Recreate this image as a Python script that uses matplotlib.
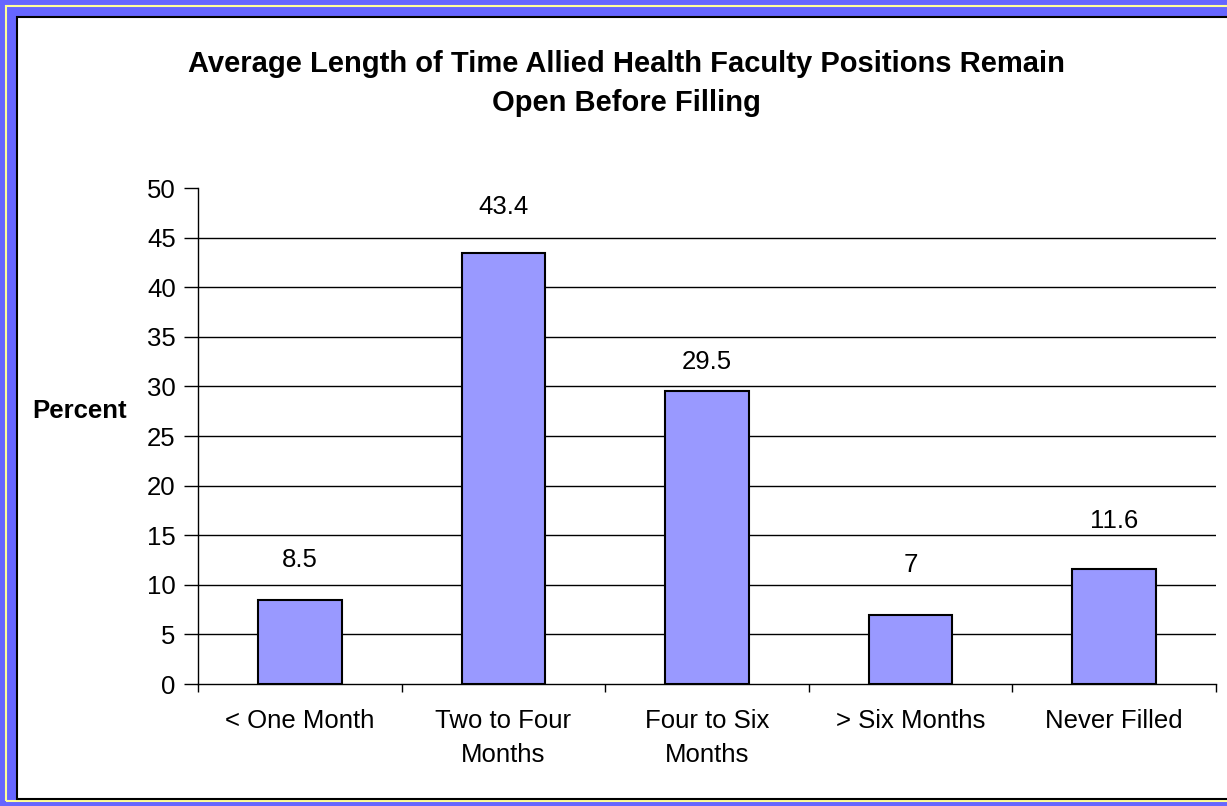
import matplotlib
matplotlib.use("Agg")
import matplotlib.pyplot as plt
from matplotlib.patches import Rectangle

categories = ["< One Month", "Two to Four\nMonths", "Four to Six\nMonths", "> Six Months", "Never Filled"]
values = [8.5, 43.4, 29.5, 7, 11.6]
labels = ["8.5", "43.4", "29.5", "7", "11.6"]
label_offsets = [4.0, 4.7, 3.0, 5.0, 4.8]
yticks = [0, 5, 10, 15, 20, 25, 30, 35, 40, 45, 50]

plt.rcParams['font.family'] = ['Liberation Sans', 'DejaVu Sans']

W, H = 1227, 806
fig = plt.figure(figsize=(W / 100, H / 100), dpi=100)
fig.patch.set_facecolor('#6666FF')


def fx(px):
    return px / W


def fy(py):
    return 1 - py / H


fig.add_artist(Rectangle((fx(5.5), fy(800.5)), fx(1300), fy(5.5) - fy(800.5), transform=fig.transFigure,
                         facecolor='none', edgecolor='#FFFF99', linewidth=1.5, zorder=-2))
fig.add_artist(Rectangle((fx(17), fy(799)), fx(1300), fy(17) - fy(799), transform=fig.transFigure,
                         facecolor='white', edgecolor='black', linewidth=1.5, zorder=-1))

FS = 18.5
ax = fig.add_axes([fx(198), fy(684), fx(1216) - fx(198), fy(188) - fy(684)])
ax.set_zorder(1)
ax.set_facecolor('none')
x = list(range(len(categories)))
ax.bar(x, values, width=0.41, color='#9999FF', edgecolor='black', linewidth=1.5, zorder=3)
for xi, v, lab, off in zip(x, values, labels, label_offsets):
    ax.text(xi, v + off, lab, ha='center', va='center', fontsize=FS)

ax.set_xlim(-0.5, len(categories) - 0.5)
ax.set_ylim(0, 50)
ax.set_yticks(yticks)
ax.set_yticklabels([str(t) for t in yticks], fontsize=FS)
for t in yticks[1:-1]:
    ax.axhline(t, color='black', linewidth=1.0, zorder=1)
ax.tick_params(axis='y', length=10, width=1, direction='out', pad=6)

ax.set_xticks(x)
ax.set_xticklabels(categories, fontsize=FS, linespacing=1.5)
ax.tick_params(axis='x', length=0, pad=18)
ax.set_xticks([i - 0.5 for i in range(len(categories) + 1)], minor=True)
ax.tick_params(axis='x', which='minor', length=6, width=1, direction='out')

for s in ['top', 'right']:
    ax.spines[s].set_visible(False)
ax.spines['left'].set_linewidth(1.0)
ax.spines['bottom'].set_linewidth(1.0)

fig.text(fx(80), fy(411), "Percent", fontsize=FS, fontweight='bold', ha='center', va='center')
fig.text(fx(626), fy(83.5), "Average Length of Time Allied Health Faculty Positions Remain\nOpen Before Filling",
         fontsize=21, fontweight='bold', ha='center', va='center', linespacing=1.5)

fig.savefig("out.png", dpi=100, facecolor=fig.get_facecolor())
